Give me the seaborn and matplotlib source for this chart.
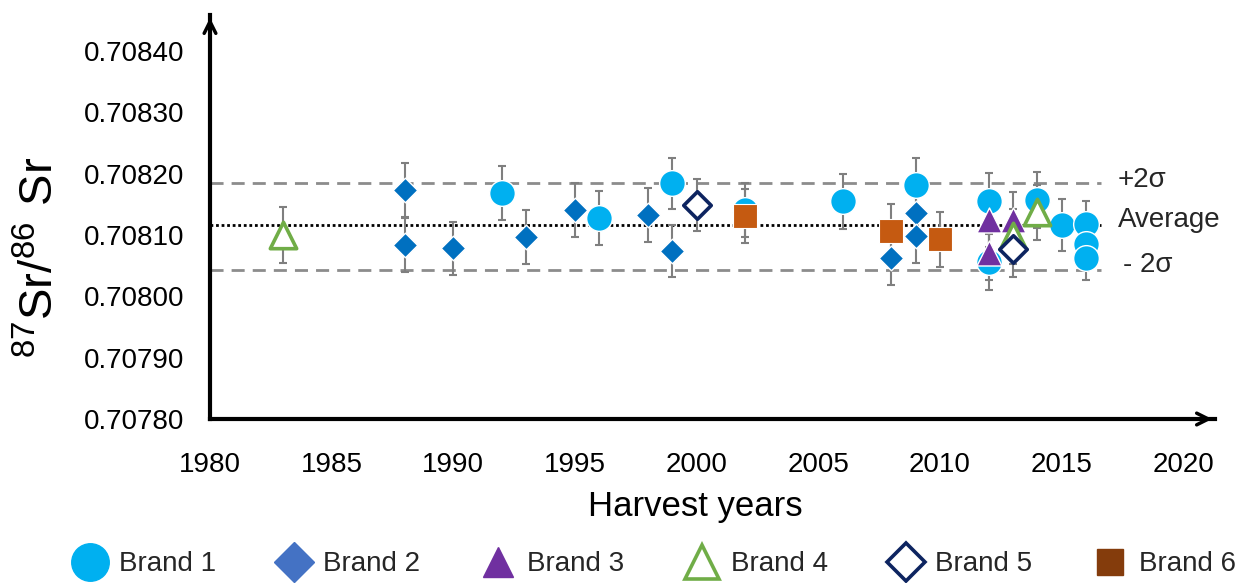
"""
87Sr/86Sr ratio against harvest year, one series per brand
"""
import numpy as np
import pandas as pd
import seaborn as sns
import matplotlib.pyplot as plt
from matplotlib.lines import Line2D

# values
brand1_years = [1992, 1996, 1999, 2002, 2006, 2009, 2012, 2012, 2014, 2015, 2016, 2016, 2016]
brand1_sr = [0.708169, 0.708127, 0.708184, 0.708140, 0.708155, 0.708181, 0.708156, 0.708056,
             0.708157, 0.708116, 0.708118, 0.708086, 0.708063]
brand1_err = [0.000044, 0.000044, 0.000042, 0.000044, 0.000045, 0.000044, 0.000045, 0.000045,
              0.000045, 0.000042, 0.000038, 0.000040, 0.000037]

brand2_years = [1988, 1988, 1990, 1993, 1995, 1998, 1999, 2008, 2009, 2009]
brand2_sr = [0.708173, 0.708083, 0.708078, 0.708097, 0.708140, 0.708132, 0.708074, 0.708063, 0.708136, 0.708098]
brand2_err = [0.000044, 0.000044, 0.000044, 0.000044, 0.000044, 0.000044, 0.000043, 0.000045, 0.000044, 0.000044]

brand3_years = [2012, 2012, 2013]
brand3_sr = [0.708125, 0.708071, 0.708125]
brand3_err = [0.000045, 0.000045, 0.000045]

brand4_years = [1983, 2013, 2014]
brand4_sr = [0.708100, 0.708098, 0.708137]
brand4_err = [0.000045, 0.000045, 0.000045]

brand5_years = [2000, 2013]
brand5_sr = [0.708149, 0.708077]
brand5_err = [0.000043, 0.000045]

brand6_years = [2002, 2008, 2010]
brand6_sr = [0.708131, 0.708106, 0.708093]
brand6_err = [0.000044, 0.000045, 0.000045]

plus_2sigma = 0.708185
average = 0.708116
minus_2sigma = 0.708043

brands = ["Brand 1", "Brand 2", "Brand 3", "Brand 4", "Brand 5", "Brand 6"]

df = pd.concat([
    pd.DataFrame({"brand": b, "year": y, "sr": s, "err": e})
    for b, y, s, e in zip(
        brands,
        [brand1_years, brand2_years, brand3_years, brand4_years, brand5_years, brand6_years],
        [brand1_sr, brand2_sr, brand3_sr, brand4_sr, brand5_sr, brand6_sr],
        [brand1_err, brand2_err, brand3_err, brand4_err, brand5_err, brand6_err],
    )
], ignore_index=True)

# marker styles: (marker, size pt, face, edge, edge width)
styles = {
    "Brand 1": ("o", 18.5, "#00B0F0", "white", 1.0),
    "Brand 2": ("D", 12.5, "#0070C0", "white", 1.0),
    "Brand 3": ("^", 18, "#7030A0", "white", 1.0),
    "Brand 4": ("^", 19, "white", "#70AD47", 2.6),
    "Brand 5": ("D", 14, "white", "#0D2460", 2.6),
    "Brand 6": ("s", 17, "#C55A11", "white", 0.8),
}
# legend uses slightly different colours, as in the reference
legend_styles = {
    "Brand 1": ("o", 27, "#00B0F0", "#00B0F0", 1.0),
    "Brand 2": ("D", 20, "#4472C4", "#4472C4", 1.0),
    "Brand 3": ("^", 22, "#7030A0", "#7030A0", 1.0),
    "Brand 4": ("^", 24, "white", "#70AD47", 2.6),
    "Brand 5": ("D", 19, "white", "#0D2460", 2.6),
    "Brand 6": ("s", 19, "#843C0C", "#843C0C", 1.0),
}

sns.set_theme(style="white")
plt.rcParams["font.family"] = ["Liberation Sans", "DejaVu Sans"]

fig = plt.figure(figsize=(12.39, 5.83), dpi=100)
ax = fig.add_axes([210 / 1239, 1 - 419 / 583, 1005 / 1239, 404 / 583])

for i, b in enumerate(brands):
    d = df[df["brand"] == b]
    marker, ms, face, edge, lw = styles[b]
    ax.errorbar(d["year"], d["sr"], yerr=d["err"], fmt="none", ecolor="#7f7f7f",
                elinewidth=1.5, capsize=3, capthick=1.5, zorder=2)
    sns.scatterplot(x=d["year"], y=d["sr"], marker=marker, s=ms ** 2, color=face,
                    edgecolor=edge, linewidth=lw, ax=ax, zorder=3 + i, legend=False)

# reference lines
ax.plot([1980, 2016.6], [plus_2sigma] * 2, color="#8c8c8c", lw=2, dashes=(4.7, 2.9), zorder=1)
ax.plot([1980, 2016.6], [minus_2sigma] * 2, color="#8c8c8c", lw=2, dashes=(4.7, 2.9), zorder=1)
ax.plot([1980, 2016.6], [average] * 2, color="black", lw=2, linestyle=(0, (1, 1)), zorder=1)
ax.text(2017.3, 0.708190, "+2σ", fontsize=20, va="center", ha="left")
ax.text(2017.3, 0.708124, "Average", fontsize=20, va="center", ha="left")
ax.text(2017.5, 0.708051, "- 2σ", fontsize=20, va="center", ha="left")

ax.set_xlim(1980, 2021.3)
ax.set_ylim(0.70780, 0.7084587)
ax.set_xticks(np.arange(1980, 2021, 5))
ax.set_yticks(np.arange(0.70780, 0.708401, 0.0001))
ax.set_yticklabels([f"{v:.5f}" for v in np.arange(0.70780, 0.708401, 0.0001)])
ax.tick_params(axis="both", direction="inout", length=13, width=1.5, labelsize=20,
               color="black", labelcolor="black")
ax.tick_params(axis="y", pad=12)
ax.tick_params(axis="x", pad=17)

for side in ["top", "right"]:
    ax.spines[side].set_visible(False)
for side in ["left", "bottom"]:
    ax.spines[side].set_linewidth(3)
    ax.spines[side].set_color("black")

# arrow heads on the axes
ax.annotate("", xy=(0, 1), xytext=(0, 0.93), xycoords="axes fraction",
            arrowprops=dict(arrowstyle="->,head_length=0.7,head_width=0.35", lw=2.5, color="black"))
ax.annotate("", xy=(1, 0), xytext=(0.96, 0), xycoords="axes fraction",
            arrowprops=dict(arrowstyle="->,head_length=0.7,head_width=0.35", lw=2.5, color="black"))

ax.set_xlabel("Harvest years", fontsize=25, color="black")
ax.xaxis.set_label_coords(0.483, -0.175)
ax.set_ylabel(r"$\mathregular{^{87}Sr/^{86}\ Sr}$", fontsize=34, color="black")
ax.yaxis.set_label_coords(-0.146, 0.40)

handles = []
for b in brands:
    marker, ms, face, edge, lw = legend_styles[b]
    handles.append(Line2D([], [], linestyle="", marker=marker, markersize=ms,
                          markerfacecolor=face, markeredgecolor=edge, markeredgewidth=lw))
fig.legend(handles, brands, loc="center left", bbox_to_anchor=(69 / 1239, 0.032), ncol=6,
           frameon=False, fontsize=20, handlelength=1.5, handletextpad=0.3,
           columnspacing=2.05, borderpad=0, borderaxespad=0)

fig.savefig("out.png", dpi=100)
